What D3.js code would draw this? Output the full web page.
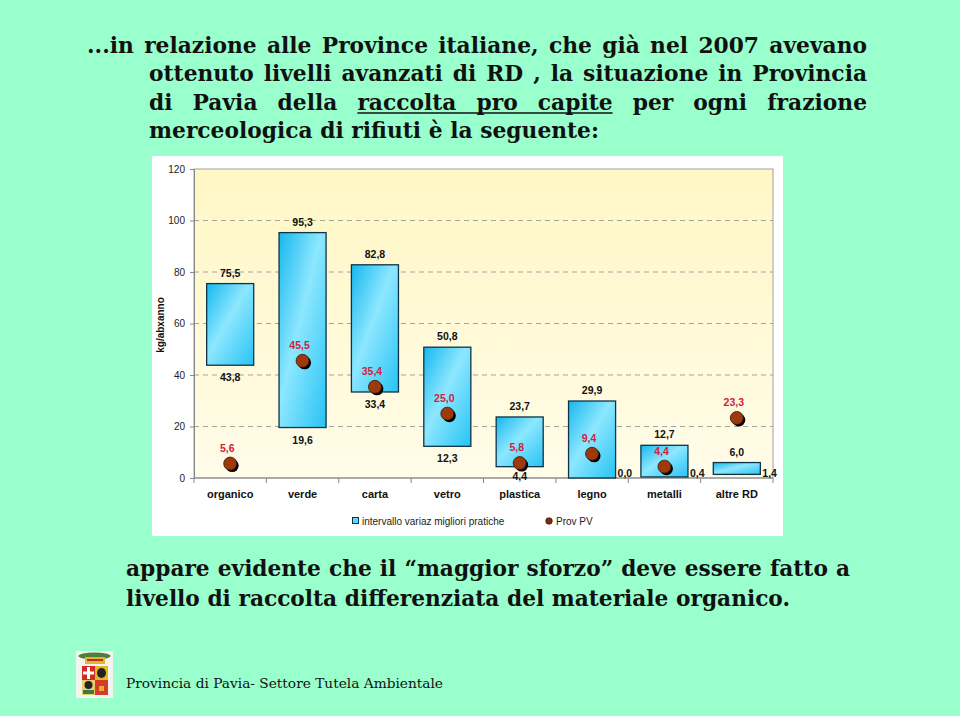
<!DOCTYPE html>
<html><head><meta charset="utf-8">
<script src="https://cdn.jsdelivr.net/npm/d3@7"></script>
<style>body{margin:0;background:#99ffcc;} svg{display:block}</style>
</head><body><svg id="c" width="960" height="716"></svg>
<script>
// ---------- data ----------
const categories = ["organico","verde","carta","vetro","plastica","legno","metalli","altre RD"];
const minValues  = [43.8, 19.6, 33.4, 12.3, 4.4, 0.0, 0.4, 1.4];
const maxValues  = [75.5, 95.3, 82.8, 50.8, 23.7, 29.9, 12.7, 6.0];
const provValues = [5.6, 45.5, 35.4, 25.0, 5.8, 9.4, 4.4, 23.3];
const yTicks = [0, 20, 40, 60, 80, 100, 120];
const legendLabels = ["intervallo variaz migliori pratiche", "Prov PV"];
const yAxisTitle = "kg/abxanno";
const titleLines = [
  "...in relazione alle Province italiane, che già nel 2007 avevano",
  "ottenuto livelli avanzati di RD , la situazione in Provincia",
  "di Pavia della raccolta pro capite per ogni frazione",
  "merceologica di rifiuti  è la seguente:"
];
const bottomLines = [
  "appare evidente che il \u201cmaggior sforzo\u201d deve essere fatto a",
  "livello di raccolta differenziata del materiale organico."
];
const footerText = "Provincia di Pavia- Settore Tutela Ambientale";

// ---------- setup ----------
const svg = d3.select("#c");
svg.append("rect").attr("width", 960).attr("height", 716).attr("fill", "#99ffcc");
const defs = svg.append("defs");
const bg = defs.append("linearGradient").attr("id", "plotBg").attr("x1", 0).attr("y1", 0).attr("x2", 0).attr("y2", 1);
bg.append("stop").attr("offset", 0).attr("stop-color", "#fff7c4");
bg.append("stop").attr("offset", 1).attr("stop-color", "#fffce9");
const bar = defs.append("linearGradient").attr("id", "barGrad").attr("x1", 0).attr("y1", 0).attr("x2", 1).attr("y2", 1);
bar.append("stop").attr("offset", 0).attr("stop-color", "#16b8ee");
bar.append("stop").attr("offset", 0.45).attr("stop-color", "#8de7ff");
bar.append("stop").attr("offset", 1).attr("stop-color", "#27c3f5");

const SANS = "'Liberation Sans', Arial, sans-serif";
const SERIF = "'DejaVu Serif', Georgia, serif";

// fit font size so a line's natural width equals a target width
function fitSize(str, target, weight) {
  const t = svg.append("text").attr("font-family", SERIF).attr("font-size", 20)
    .attr("font-weight", weight).text(str);
  const w = t.node().getComputedTextLength();
  t.remove();
  return 20 * target / w;
}

// ---------- justified text lines ----------
function textLine(str, x0, x1, y, size, weight) {
  const g = svg.append("g");
  const words = str.split(/\s+/);
  const nodes = words.map(w => g.append("text").attr("y", y)
    .attr("font-family", SERIF).attr("font-size", size).attr("font-weight", weight)
    .attr("fill", "#111").text(w));
  const widths = nodes.map(n => n.node().getComputedTextLength());
  const gap = (x1 - x0 - d3.sum(widths)) / (words.length - 1);
  const pos = [];
  let x = x0;
  nodes.forEach((n, i) => { n.attr("x", x); pos.push([x, x + widths[i]]); x += widths[i] + gap; });
  return pos;
}
const tSize = fitSize(titleLines[3], 450, "bold");
textLine(titleLines[0], 87, 867, 53, tSize, "bold");
textLine(titleLines[1], 149, 867, 81, tSize, "bold");
const p3 = textLine(titleLines[2], 149, 867, 110, tSize, "bold");
textLine(titleLines[3], 149, 599, 138, tSize, "bold");
svg.append("line").attr("x1", p3[3][0]).attr("x2", p3[5][1]).attr("y1", 113).attr("y2", 113)
  .attr("stroke", "#111").attr("stroke-width", 1.5);
const bSize = fitSize(bottomLines[1], 664, "bold");
textLine(bottomLines[0], 126, 850, 576, bSize, "bold");
textLine(bottomLines[1], 126, 790, 606, bSize, "bold");
const fSize = fitSize(footerText, 317, "normal");
textLine(footerText, 126, 443, 688, fSize, "normal");

// ---------- logo ----------
const logo = svg.append("g");
logo.append("rect").attr("x", 76).attr("y", 651).attr("width", 37).attr("height", 47).attr("fill", "#f3f3f0");
logo.append("ellipse").attr("cx", 94.5).attr("cy", 656).attr("rx", 16).attr("ry", 3.5).attr("fill", "#4f7d3c");
logo.append("rect").attr("x", 85).attr("y", 657).attr("width", 20).attr("height", 7).attr("fill", "#e2b628");
logo.append("rect").attr("x", 87).attr("y", 659).attr("width", 16).attr("height", 2).attr("fill", "#b0302a");
logo.append("rect").attr("x", 82).attr("y", 666).attr("width", 13).attr("height", 14).attr("fill", "#d22a24");
logo.append("rect").attr("x", 87).attr("y", 667).attr("width", 3).attr("height", 12).attr("fill", "#fff");
logo.append("rect").attr("x", 83).attr("y", 671.5).attr("width", 11).attr("height", 3).attr("fill", "#fff");
logo.append("rect").attr("x", 95).attr("y", 666).attr("width", 13).attr("height", 14).attr("fill", "#e4b624");
logo.append("ellipse").attr("cx", 101.5).attr("cy", 673).attr("rx", 4.5).attr("ry", 5).attr("fill", "#222");
logo.append("rect").attr("x", 82).attr("y", 680).attr("width", 13).attr("height", 15).attr("fill", "#e9cf6a");
logo.append("ellipse").attr("cx", 88.5).attr("cy", 685).attr("rx", 4).attr("ry", 4).attr("fill", "#222");
logo.append("rect").attr("x", 83).attr("y", 690).attr("width", 11).attr("height", 4).attr("fill", "#3c7a45");
logo.append("rect").attr("x", 95).attr("y", 680).attr("width", 13).attr("height", 15).attr("fill", "#d43c2c");
logo.append("rect").attr("x", 99).attr("y", 686).attr("width", 5).attr("height", 5).attr("fill", "#e8b020");

// ---------- chart panel ----------
svg.append("rect").attr("x", 152).attr("y", 156).attr("width", 631).attr("height", 380).attr("fill", "#fff");

const L = 194, R = 773, T = 169, B = 478;
const x = d3.scaleBand().domain(categories).range([L, R]).paddingInner(0.35).paddingOuter(0.175);
const xb = d3.scaleLinear().domain([0, categories.length]).range([L, R]);
const y = d3.scaleLinear().domain([0, 120]).range([B, T]);
const fmt = v => d3.format(".1f")(v).replace(".", ",");

svg.append("rect").attr("x", L).attr("y", T).attr("width", R - L).attr("height", B - T)
  .attr("fill", "url(#plotBg)").attr("stroke", "#a0a0a0").attr("stroke-width", 1);

// gridlines
svg.append("g").selectAll("line").data(yTicks.filter(t => t > 0 && t < 120)).join("line")
  .attr("x1", L).attr("x2", R).attr("y1", d => y(d)).attr("y2", d => y(d))
  .attr("stroke", "#9a9a9a").attr("stroke-dasharray", "5,4").attr("stroke-width", 0.9);

// y axis
const ya = svg.append("g").attr("transform", `translate(${L},0)`)
  .call(d3.axisLeft(y).tickValues(yTicks).tickSize(4).tickPadding(5).tickFormat(d3.format("d")));
ya.select(".domain").attr("stroke", "#888");
ya.selectAll(".tick line").attr("stroke", "#888");
ya.selectAll(".tick text").attr("font-family", SANS).attr("font-size", 10).attr("fill", "#222");

svg.append("text").attr("transform", "translate(164,325) rotate(-90)").attr("text-anchor", "middle")
  .attr("font-family", SANS).attr("font-size", 10).attr("font-weight", "bold").attr("fill", "#111")
  .text(yAxisTitle);

// x axis
svg.append("line").attr("x1", L).attr("x2", R).attr("y1", B).attr("y2", B).attr("stroke", "#888");
svg.append("g").selectAll("line").data(d3.range(categories.length + 1)).join("line")
  .attr("x1", d => xb(d)).attr("x2", d => xb(d)).attr("y1", B).attr("y2", B + 5).attr("stroke", "#888");
svg.append("g").selectAll("text").data(categories).join("text")
  .attr("x", d => x(d) + x.bandwidth() / 2).attr("y", B + 20).attr("text-anchor", "middle")
  .attr("font-family", SANS).attr("font-size", 11).attr("font-weight", "bold").attr("fill", "#111")
  .text(d => d);

// bars (range floating)
const rows = categories.map((c, i) => ({ c, lo: minValues[i], hi: maxValues[i], pv: provValues[i] }));
svg.append("g").selectAll("rect").data(rows).join("rect")
  .attr("x", d => x(d.c)).attr("width", x.bandwidth())
  .attr("y", d => y(d.hi)).attr("height", d => y(d.lo) - y(d.hi))
  .attr("fill", "url(#barGrad)").attr("stroke", "#0e3346").attr("stroke-width", 1.3);

// bar labels
const lab = svg.append("g").attr("font-family", SANS).attr("font-size", 10.5).attr("font-weight", "bold").attr("fill", "#111");
lab.selectAll("text.hi").data(rows).join("text").attr("class", "hi")
  .attr("x", d => x(d.c) + x.bandwidth() / 2).attr("y", d => y(d.hi) - 7).attr("text-anchor", "middle")
  .text(d => fmt(d.hi));
lab.selectAll("text.lo").data(rows).join("text").attr("class", "lo")
  .attr("x", d => d.lo < 2 ? x(d.c) + x.bandwidth() + 2 : x(d.c) + x.bandwidth() / 2)
  .attr("y", d => d.lo < 2 ? Math.min(y(d.lo) + 8, B - 1) : Math.min(y(d.lo) + 16, B + 2))
  .attr("text-anchor", d => d.lo < 2 ? "start" : "middle")
  .text(d => fmt(d.lo));

// Prov PV dots
const dots = svg.append("g");
dots.selectAll("circle.sh").data(rows).join("circle").attr("class", "sh")
  .attr("cx", d => x(d.c) + x.bandwidth() / 2 + 2).attr("cy", d => y(d.pv) + 2).attr("r", 6.5).attr("fill", "#000");
dots.selectAll("circle.dt").data(rows).join("circle").attr("class", "dt")
  .attr("cx", d => x(d.c) + x.bandwidth() / 2).attr("cy", d => y(d.pv)).attr("r", 6.5)
  .attr("fill", "#9c3a0c").attr("stroke", "#3a1404").attr("stroke-width", 0.8);
svg.append("g").selectAll("text").data(rows).join("text")
  .attr("x", d => x(d.c) + x.bandwidth() / 2 - 3).attr("y", d => y(d.pv) - 12).attr("text-anchor", "middle")
  .attr("font-family", SANS).attr("font-size", 10.5).attr("font-weight", "bold").attr("fill", "#d3203c")
  .text(d => fmt(d.pv));

// legend
const lg = svg.append("g").attr("font-family", SANS).attr("font-size", 10).attr("fill", "#222");
lg.append("rect").attr("x", 352.5).attr("y", 517.5).attr("width", 6).attr("height", 6)
  .attr("fill", "#5fd6ff").attr("stroke", "#0e3346").attr("stroke-width", 1);
lg.append("text").attr("x", 362).attr("y", 524.5).text(legendLabels[0]);
lg.append("circle").attr("cx", 549).attr("cy", 521).attr("r", 3.3).attr("fill", "#7a2e0c").attr("stroke", "#2a0e02").attr("stroke-width", 0.6);
lg.append("text").attr("x", 556).attr("y", 524.5).text(legendLabels[1]);
</script></body></html>
